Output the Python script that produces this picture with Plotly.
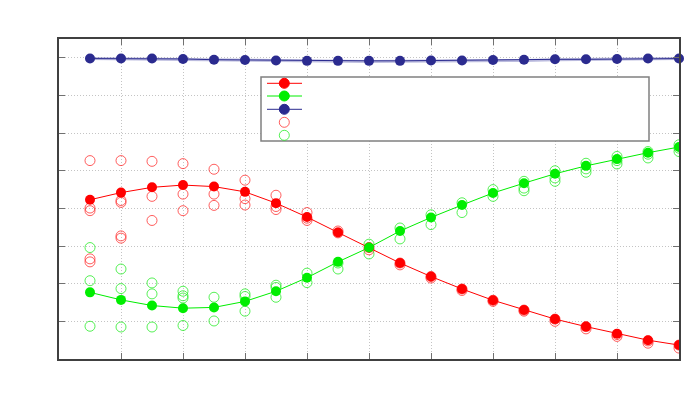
import plotly.graph_objects as go

# ---- data ----
x_vals = [0.5, 1.0, 1.5, 2.0, 2.5, 3.0, 3.5, 4.0, 4.5, 5.0,
          5.5, 6.0, 6.5, 7.0, 7.5, 8.0, 8.5, 9.0, 9.5, 10.0]

red_mean = [0.423, 0.442, 0.456, 0.462, 0.458, 0.444, 0.414, 0.377, 0.336, 0.296,
            0.255, 0.219, 0.186, 0.156, 0.130, 0.106, 0.086, 0.067, 0.050, 0.037]
green_mean = [0.177, 0.157, 0.142, 0.135, 0.137, 0.153, 0.180, 0.216, 0.258, 0.296,
              0.340, 0.376, 0.409, 0.441, 0.467, 0.492, 0.513, 0.531, 0.548, 0.563]
blue_mean = [0.798, 0.798, 0.798, 0.797, 0.795, 0.794, 0.793, 0.792, 0.792, 0.792,
             0.792, 0.793, 0.793, 0.794, 0.795, 0.796, 0.796, 0.797, 0.798, 0.798]
blue_band = [0.798, 0.797, 0.796, 0.795, 0.793, 0.793, 0.792, 0.791, 0.790, 0.790,
             0.791, 0.791, 0.792, 0.792, 0.793, 0.795, 0.796, 0.797, 0.797, 0.798]

red_samples = [
    [0.527, 0.401, 0.394, 0.266, 0.258],
    [0.527, 0.421, 0.416, 0.327, 0.321],
    [0.525, 0.432, 0.368],
    [0.519, 0.438, 0.394],
    [0.504, 0.438, 0.408],
    [0.475, 0.426, 0.409],
    [0.435, 0.405, 0.397],
    [0.389, 0.374, 0.368],
    [0.340, 0.335],
    [0.296, 0.290],
    [0.255, 0.250],
    [0.219, 0.215],
    [0.186, 0.182],
    [0.156, 0.153],
    [0.130, 0.127],
    [0.106, 0.100],
    [0.086, 0.080],
    [0.065, 0.060],
    [0.048, 0.042],
    [0.037, 0.029],
]
green_samples = [
    [0.296, 0.208, 0.087],
    [0.239, 0.187, 0.085],
    [0.202, 0.173, 0.085],
    [0.180, 0.168, 0.162, 0.089],
    [0.164, 0.101],
    [0.173, 0.166, 0.127],
    [0.196, 0.190, 0.164],
    [0.228, 0.203],
    [0.255, 0.239],
    [0.305, 0.279],
    [0.348, 0.319],
    [0.383, 0.357],
    [0.415, 0.389],
    [0.450, 0.432],
    [0.472, 0.454, 0.447],
    [0.500, 0.481, 0.472],
    [0.520, 0.505, 0.496],
    [0.538, 0.527, 0.518],
    [0.551, 0.544, 0.534],
    [0.569, 0.560, 0.551],
]

RED = "#ff0000"
GREEN = "#00ee00"
BLUE = "#2b2b8f"
RED_OPEN = "rgba(255,40,40,0.75)"
GREEN_OPEN = "rgba(30,235,30,0.75)"


def flatten(samples):
    xs, ys = [], []
    for xv, group in zip(x_vals, samples):
        for yv in group:
            xs.append(xv)
            ys.append(yv)
    return xs, ys


rx, ry = flatten(red_samples)
gx, gy = flatten(green_samples)

fig = go.Figure()
fig.add_trace(go.Scatter(x=rx, y=ry, mode="markers", showlegend=False,
                         marker=dict(symbol="circle-open", size=10, color=RED_OPEN,
                                     line=dict(width=1, color=RED_OPEN))))
fig.add_trace(go.Scatter(x=gx, y=gy, mode="markers", showlegend=False,
                         marker=dict(symbol="circle-open", size=10, color=GREEN_OPEN,
                                     line=dict(width=1, color=GREEN_OPEN))))
fig.add_trace(go.Scatter(x=x_vals, y=blue_band, mode="lines", showlegend=False,
                         line=dict(color="rgba(60,60,160,0.35)", width=3)))
fig.add_trace(go.Scatter(x=x_vals, y=red_mean, mode="lines+markers", showlegend=False,
                         line=dict(color=RED, width=1),
                         marker=dict(size=10, color=RED)))
fig.add_trace(go.Scatter(x=x_vals, y=green_mean, mode="lines+markers", showlegend=False,
                         line=dict(color=GREEN, width=1),
                         marker=dict(size=10, color=GREEN)))
fig.add_trace(go.Scatter(x=x_vals, y=blue_mean, mode="lines+markers", showlegend=False,
                         line=dict(color=BLUE, width=1),
                         marker=dict(size=10, color=BLUE), cliponaxis=False))

# ---- page geometry (browser body has an 8px margin) ----
OFF = 8
FIG_W, FIG_H = 700 - OFF, 400 - OFF
L, T, W, H = 59 - OFF, 39 - OFF, 620, 320


def px(xp):
    return (xp - OFF - L) / W


def py(yp):
    return (T + H - (yp - OFF)) / H


# ---- legend box (no text, as in the reference) ----
shapes = [dict(type="rect", xref="paper", yref="paper",
               x0=px(261), x1=px(649), y0=py(141), y1=py(77),
               line=dict(color="#808080", width=1.5), fillcolor="white", layer="above")]
rows = [(83.3, RED, True, True), (96.0, GREEN, True, True), (109.3, BLUE, True, True),
        (122.3, RED_OPEN, False, False), (135.3, GREEN_OPEN, False, False)]
for yy, col, has_line, filled in rows:
    if has_line:
        shapes.append(dict(type="line", xref="paper", yref="paper",
                           x0=px(267), x1=px(302), y0=py(yy), y1=py(yy),
                           line=dict(color=col, width=1), layer="above"))
    shapes.append(dict(type="circle", xref="paper", yref="paper",
                       xsizemode="pixel", ysizemode="pixel",
                       xanchor=px(284.3), yanchor=py(yy),
                       x0=-5, x1=5, y0=-5, y1=5,
                       fillcolor=col if filled else "rgba(0,0,0,0)",
                       line=dict(color=col, width=1), layer="above"))

axis_common = dict(showticklabels=False, ticks="inside", ticklen=6, tickwidth=1,
                   tickcolor="#707070", showline=True, linecolor="#404040",
                   linewidth=1.5, mirror="ticks", showgrid=True,
                   gridcolor="#c4c4c4", griddash="1px,2px", gridwidth=1, zeroline=False)

fig.update_layout(
    width=FIG_W, height=FIG_H,
    margin=dict(l=L, r=FIG_W - L - W, t=T, b=FIG_H - T - H),
    paper_bgcolor="white", plot_bgcolor="white",
    xaxis=dict(range=[0, 10], dtick=1, tick0=0, **axis_common),
    yaxis=dict(range=[0, 0.85], dtick=0.1, tick0=0, **axis_common),
    shapes=shapes,
    showlegend=False,
)

fig.write_html("out.html")
